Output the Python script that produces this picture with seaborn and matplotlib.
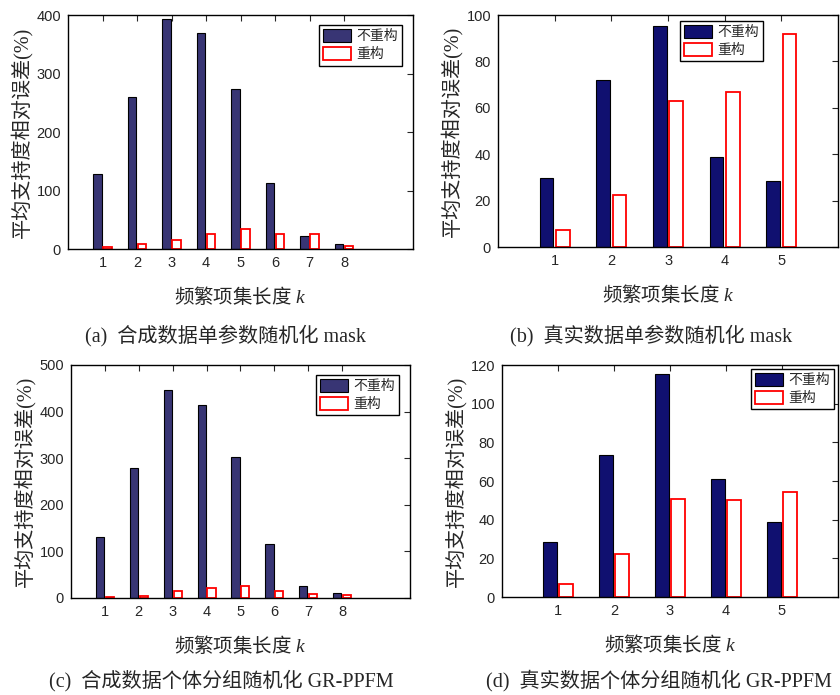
import pandas as pd
import matplotlib.pyplot as plt
import seaborn as sns

sns.set_style("white")
plt.rcParams['font.family'] = ['Liberation Serif', 'Noto Sans CJK SC']
plt.rcParams['mathtext.fontset'] = 'custom'
plt.rcParams['mathtext.rm'] = 'Noto Sans CJK SC'
plt.rcParams['mathtext.it'] = 'Liberation Serif:italic'

# -----------------------------
# Data
# -----------------------------
methods = ["不重构", "重构"]

k_syn = [1, 2, 3, 4, 5, 6, 7, 8]
k_real = [1, 2, 3, 4, 5]

a_plain = [129, 259, 393, 369, 274, 112, 23, 8.5]
a_recon = [3.5, 8.5, 15, 25, 33.5, 26, 26.5, 4.5]

b_plain = [29.7, 71.8, 95.4, 39, 28.4]
b_recon = [7.5, 22.6, 63, 66.7, 91.8]

c_plain = [130.5, 278, 447, 413, 303.5, 116, 25, 10]
c_recon = [2, 5, 14, 21.5, 25, 14, 9.5, 7]

d_plain = [28.7, 73.3, 115.3, 61, 38.6]
d_recon = [6.7, 22.3, 50.8, 50.1, 54.5]

captions = ["(a)  合成数据单参数随机化 mask",
            "(b)  真实数据单参数随机化 mask",
            "(c)  合成数据个体分组随机化 GR-PPFM",
            "(d)  真实数据个体分组随机化 GR-PPFM"]

ylabel = "平均支持度相对误差(%)"
xlabel = r"$\mathrm{频繁项集长度}\ k$"


def make_df(ks, plain, recon):
    return pd.DataFrame({
        "k": ks + ks,
        "方法": [methods[0]] * len(ks) + [methods[1]] * len(ks),
        "误差": plain + recon,
    })


panels = [
    # df, axes rect, blue, xlim, ylim, yticks, legend loc, legend anchor, caption pos
    (make_df(k_syn, a_plain, a_recon), [0.081, 0.6417, 0.4107, 0.3367], "#2f2a7e",
     (0, 10), (0, 400), range(0, 401, 100), "upper right", (0.968, 0.957), (0.268, 0.5165)),
    (make_df(k_real, b_plain, b_recon), [0.5929, 0.6446, 0.4048, 0.3338], "#000080",
     (0, 6), (0, 100), range(0, 101, 20), "upper left", (0.535, 0.974), (0.775, 0.5165)),
    (make_df(k_syn, c_plain, c_recon), [0.0845, 0.1396, 0.4036, 0.3353], "#2f2a7e",
     (0, 10), (0, 500), range(0, 501, 100), "upper right", (0.968, 0.957), (0.264, 0.021)),
    (make_df(k_real, d_plain, d_recon), [0.5976, 0.141, 0.40, 0.3338], "#000080",
     (0, 6), (0, 120), range(0, 121, 20), "upper right", (0.988, 0.983), (0.784, 0.021)),
]

fig = plt.figure(figsize=(8.4, 6.95), dpi=100)

for i, (df, rect, blue, xlim, ylim, yticks, loc, anchor, cap) in enumerate(panels):
    ax = fig.add_axes(rect)
    sns.barplot(data=df, x="k", y="误差", hue="方法", native_scale=True,
                palette={methods[0]: blue, methods[1]: "white"},
                width=0.58, gap=0.17, legend=False, ax=ax)
    for bar in ax.containers[0]:
        bar.set_edgecolor("black")
        bar.set_linewidth(0.8)
    for bar in ax.containers[1]:
        bar.set_edgecolor("#ff0000")
        bar.set_linewidth(1.3)

    ax.set_xlim(*xlim)
    ax.set_ylim(*ylim)
    ax.set_xticks(sorted(df["k"].unique()))
    ax.set_yticks(list(yticks))
    ax.tick_params(direction="in", top=True, right=True, length=4, width=0.8,
                   labelsize=10.5, pad=5)
    for lab in ax.get_xticklabels() + ax.get_yticklabels():
        lab.set_family("Liberation Sans")
    for sp in ax.spines.values():
        sp.set_color("black")
        sp.set_linewidth(1.0)

    ax.set_xlabel(xlabel, fontsize=14, labelpad=10)
    ax.set_ylabel(ylabel, fontsize=14.5, labelpad=3)

    leg = ax.legend(handles=[ax.containers[0], ax.containers[1]], labels=methods,
                    loc=loc, bbox_to_anchor=anchor, borderaxespad=0,
                    fancybox=False, edgecolor="black", framealpha=1,
                    fontsize=10, handlelength=2.0, handleheight=1.0,
                    handletextpad=0.4, borderpad=0.3, labelspacing=0.3)
    leg.get_frame().set_linewidth(1.0)

    fig.text(cap[0], cap[1], captions[i], ha="center", va="center", fontsize=14.5)

plt.savefig("out.png", dpi=100)
